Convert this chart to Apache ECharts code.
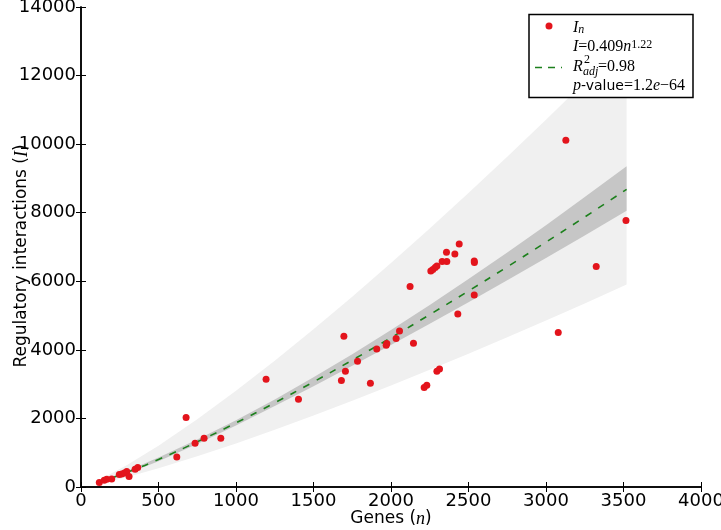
<!DOCTYPE html>
<html>
<head>
<meta charset="utf-8">
<script src="https://cdn.jsdelivr.net/npm/echarts@6/dist/echarts.min.js"></script>
<style>html,body{margin:0;padding:0;background:#fff}#c{width:721px;height:530px}</style>
</head>
<body>
<div id="c"></div>
<script>
// ---- data ----
const genesN = [118,150,166,198,247,263,280,295,310,349,366,618,678,736,794,902,1194,1403,1680,1696,1706,1784,1867,1908,1969,1973,2033,2055,2123,2145,2214,2231,2257,2270,2285,2296,2296,2313,2330,2358,2360,2412,2431,2440,2537,2538,2537,3079,3128,3324,3516];
const interactionsI = [128,195,225,233,362,379,408,449,303,516,566,875,2025,1275,1421,1421,3143,2559,3104,4397,3376,3668,3026,4027,4135,4184,4330,4552,5847,4193,2900,2967,6303,6343,6402,6449,3376,3443,6577,6848,6577,6799,5048,7090,6594,6548,5602,4505,10116,6431,7773];

// fitted curve and bands, sampled on a grid of n
const nGrid      = [120, 300, 500, 750, 1000, 1250, 1500, 1750, 2000, 2250, 2500, 2750, 3000, 3250, 3520];
const fitI       = [141, 431, 803, 1317, 1870, 2455, 3066, 3701, 4355, 5028, 5717, 6422, 7142, 7875, 8682];
const confUpper  = [162, 472, 857, 1382, 1949, 2555, 3198, 3875, 4579, 5310, 6064, 6841, 7638, 8455, 9358];
const confLower  = [122, 393, 752, 1254, 1794, 2359, 2940, 3535, 4142, 4761, 5390, 6029, 6678, 7335, 8054];
const predUpper  = [211, 646, 1204, 1976, 2805, 3683, 4599, 5551, 6532, 7542, 8575, 9633, 10713, 11812, 13023];
const predLower  = [96, 293, 546, 895, 1272, 1669, 2085, 2517, 2961, 3419, 3888, 4367, 4857, 5355, 5904];

const xTicks = {min: 0, max: 4000, interval: 500};
const yTicks = {min: 0, max: 14000, interval: 2000};

const chart = echarts.init(document.getElementById('c'), null, {renderer: 'canvas'});

function band(upper, lower, color, z) {
  return {
    type: 'custom',
    coordinateSystem: 'cartesian2d',
    silent: true,
    clip: true,
    z: z,
    data: [[nGrid[0], lower[0]]],
    renderItem: function (params, api) {
      const pts = [];
      for (let i = 0; i < nGrid.length; i++) pts.push(api.coord([nGrid[i], upper[i]]));
      for (let i = nGrid.length - 1; i >= 0; i--) pts.push(api.coord([nGrid[i], lower[i]]));
      return {type: 'polygon', shape: {points: pts}, style: {fill: color, stroke: null}};
    }
  };
}

const sans = 'DejaVu Sans';
const serif = 'Liberation Serif';
const axisLineStyle = {show: true, lineStyle: {color: '#000', width: 1.5}};
const tickStyle = {show: true, inside: true, length: 5, lineStyle: {color: '#000', width: 1}};
const plainNum = v => String(v);

const mathRich = {
  m: {fontFamily: serif, fontStyle: 'italic', fontSize: 18, color: '#000'}
};

const legendRich = {
  i: {fontFamily: serif, fontStyle: 'italic', fontSize: 16, color: '#000', verticalAlign: 'middle'},
  s: {fontFamily: serif, fontSize: 16, color: '#000', verticalAlign: 'middle'},
  sans: {fontFamily: sans, fontSize: 14, color: '#000', verticalAlign: 'middle'},
  sup: {fontFamily: serif, fontSize: 12, color: '#000', verticalAlign: 'top'},
  sub: {fontFamily: serif, fontStyle: 'italic', fontSize: 12, color: '#000', verticalAlign: 'bottom'}
};

const option = {
  backgroundColor: '#fff',
  animation: false,
  grid: {left: 81, top: 7, right: 20, bottom: 43, containLabel: false, outerBoundsMode: 'none'},
  xAxis: [{
    type: 'value', min: xTicks.min, max: xTicks.max, interval: xTicks.interval,
    position: 'bottom',
    name: 'Genes ({m|n})', nameLocation: 'middle', nameGap: 23, nameMoveOverlap: false,
    nameTextStyle: {fontFamily: sans, fontSize: 17, color: '#000', rich: mathRich},
    axisLine: axisLineStyle, axisTick: tickStyle, splitLine: {show: false},
    axisLabel: {fontFamily: sans, fontSize: 18, color: '#000', margin: 5, formatter: plainNum, hideOverlap: false}
  }, {
    type: 'value', min: xTicks.min, max: xTicks.max, interval: xTicks.interval,
    position: 'top',
    axisLine: axisLineStyle, axisTick: tickStyle, splitLine: {show: false},
    axisLabel: {show: false}
  }],
  yAxis: [{
    type: 'value', min: yTicks.min, max: yTicks.max, interval: yTicks.interval,
    position: 'left',
    name: 'Regulatory interactions ({m|I})', nameLocation: 'middle', nameGap: 50, nameMoveOverlap: false,
    nameTextStyle: {fontFamily: sans, fontSize: 17, color: '#000', rich: mathRich, padding: [0, 18, 0, 0]},
    axisLine: axisLineStyle, axisTick: tickStyle, splitLine: {show: false},
    axisLabel: {fontFamily: sans, fontSize: 18, color: '#000', margin: 5, formatter: plainNum, hideOverlap: false, padding: [4, 0, 0, 0]}
  }, {
    type: 'value', min: yTicks.min, max: yTicks.max, interval: yTicks.interval,
    position: 'right',
    axisLine: axisLineStyle, axisTick: tickStyle, splitLine: {show: false},
    axisLabel: {show: false}
  }],
  series: [
    band(predUpper, predLower, '#f0f0f0', 1),
    band(confUpper, confLower, '#c6c6c6', 2),
    {
      type: 'line', name: 'fit', z: 3,
      data: nGrid.map((n, i) => [n, fitI[i]]),
      smooth: true, symbol: 'none', silent: true,
      lineStyle: {color: '#1d801d', width: 1.6, type: [7, 8]}
    },
    {
      type: 'scatter', name: 'In', z: 4,
      data: genesN.map((n, i) => [n, interactionsI[i]]),
      symbol: 'circle', symbolSize: 7,
      itemStyle: {color: '#e3141c', opacity: 1}
    }
  ],
  graphic: [
    {type: 'rect', z: 100, shape: {x: 529, y: 14.5, width: 164, height: 83},
      style: {fill: '#fff', stroke: '#000', lineWidth: 1.5}},
    {type: 'circle', z: 101, shape: {cx: 549, cy: 26, r: 3.5}, style: {fill: '#e3141c'}},
    {type: 'line', z: 101, shape: {x1: 535, y1: 67.5, x2: 562, y2: 67.5},
      style: {stroke: '#1d801d', lineWidth: 1.6, lineDash: [7, 6]}},
    {type: 'text', z: 101, x: 573, y: 28,
      style: {text: '{i|I}{sub|n}', rich: legendRich, align: 'left', verticalAlign: 'middle'}},
    {type: 'text', z: 101, x: 573, y: 47,
      style: {text: '{i|I}{s|=0.409}{i|n}{sup|1.22}', rich: legendRich, align: 'left', verticalAlign: 'middle'}},
    {type: 'text', z: 101, x: 573, y: 67,
      style: {text: 'R', font: 'italic 16px "Liberation Serif"', fill: '#000', align: 'left', verticalAlign: 'middle'}},
    {type: 'text', z: 101, x: 584, y: 60,
      style: {text: '2', font: '12px "Liberation Serif"', fill: '#000', align: 'left', verticalAlign: 'middle'}},
    {type: 'text', z: 101, x: 583, y: 72,
      style: {text: 'adj', font: 'italic 12px "Liberation Serif"', fill: '#000', align: 'left', verticalAlign: 'middle'}},
    {type: 'text', z: 101, x: 598, y: 67,
      style: {text: '=0.98', font: '16px "Liberation Serif"', fill: '#000', align: 'left', verticalAlign: 'middle'}},
    {type: 'text', z: 101, x: 573, y: 86,
      style: {text: '{i|p}{sans|-value}{s|=1.2}{i|e}{s|\u221264}', rich: legendRich, align: 'left', verticalAlign: 'middle'}}
  ]
};
chart.setOption(option);
</script>
</body>
</html>
